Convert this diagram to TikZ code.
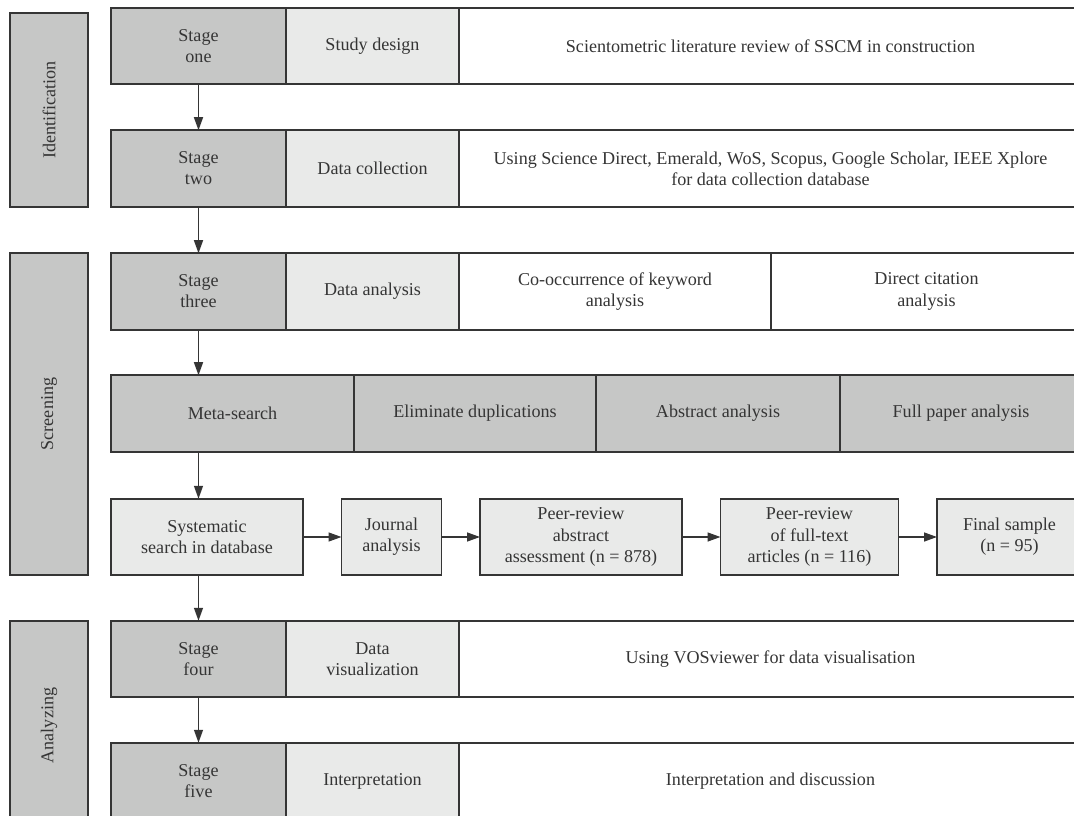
\documentclass[tikz,border=0pt]{standalone}
\usepackage{fontspec}
\setmainfont{Liberation Serif}
\usepackage{tikz}
\usetikzlibrary{positioning, arrows.meta}

\definecolor{darkfill}{HTML}{C6C7C6}
\definecolor{lightfill}{HTML}{E9EAE9}
\definecolor{edge}{HTML}{353535}

\tikzset{
	box/.style={draw=edge, line width=1.1pt, text=edge, align=center, inner sep=2pt, outer sep=0pt, minimum height=1.53cm, font=\fontsize{10.3}{12}\selectfont},
	phasebox/.style={box, fill=darkfill, rotate=90, minimum height=1.56cm},
	stagebox/.style={box, fill=darkfill, minimum width=3.5cm},
	taskbox/.style={box, fill=lightfill, minimum width=3.46cm},
	infobox/.style={box, fill=white, minimum width=12.46cm},
	arr/.style={draw=edge, line width=0.8pt, -{Triangle[length=0.26cm, width=0.18cm]}}
}

\begin{document}
\begin{tikzpicture}
			\useasboundingbox (0,0) rectangle (21.48,-16.32);
			
			% Phases
			\node[phasebox, minimum width=3.88cm] (ident) at (0.98, -2.2) {Identification};
			\node[phasebox, minimum width=6.44cm] (screen) at (0.98, -8.28) {Screening};
			\node[phasebox, minimum width=4.18cm] (analyz) at (0.98, -14.51) {Analyzing};
			
			% Stage one
			\node[stagebox] (s1) at (3.97, -0.92) {Stage\\one};
			\node[taskbox, right=0pt of s1] (t1) {Study design};
			\node[infobox, right=0pt of t1] (i1) {Scientometric literature review of SSCM in construction};
			
			% Stage two
			\node[stagebox] (s2) at (3.97, -3.37) {Stage\\two};
			\node[taskbox, right=0pt of s2] (t2) {Data collection};
			\node[infobox, right=0pt of t2] (i2) {Using Science Direct, Emerald, WoS, Scopus, Google Scholar, IEEE Xplore\\for data collection database};
			
			% Stage three
			\node[stagebox] (s3) at (3.97, -5.83) {Stage\\three};
			\node[taskbox, right=0pt of s3] (t3) {Data analysis};
			\node[infobox, minimum width=6.24cm, right=0pt of t3] (i3a) {Co-occurrence of keyword\\analysis};
			\node[infobox, minimum width=6.22cm, right=0pt of i3a] (i3b) {Direct citation\\analysis};
			
			% Screening steps
			\node[stagebox, minimum width=4.86cm] (m1) at (4.65, -8.27) {Meta-search};
			\node[stagebox, minimum width=4.84cm, right=0pt of m1] (m2) {Eliminate duplications};
			\node[stagebox, minimum width=4.88cm, right=0pt of m2] (m3) {Abstract analysis};
			\node[stagebox, minimum width=4.84cm, right=0pt of m3] (m4) {Full paper analysis};
			
			% Search flow
			\node[taskbox, minimum width=3.84cm] (f1) at (4.14, -10.74) {Systematic\\search in database};
			\node[taskbox, minimum width=2cm, right=0.77cm of f1] (f2) {Journal\\analysis};
			\node[taskbox, minimum width=4.04cm, right=0.77cm of f2] (f3) {Peer-review\\abstract\\assessment (n = 878)};
			\node[taskbox, minimum width=3.56cm, right=0.77cm of f3] (f4) {Peer-review\\of full-text\\articles (n = 116)};
			\node[taskbox, minimum width=2.9cm, right=0.77cm of f4] (f5) {Final sample\\(n = 95)};
			
			% Stage four
			\node[stagebox] (s4) at (3.97, -13.18) {Stage\\four};
			\node[taskbox, right=0pt of s4] (t4) {Data\\visualization};
			\node[infobox, right=0pt of t4] (i4) {Using VOSviewer for data visualisation};
			
			% Stage five
			\node[stagebox] (s5) at (3.97, -15.62) {Stage\\five};
			\node[taskbox, right=0pt of s5] (t5) {Interpretation};
			\node[infobox, right=0pt of t5] (i5) {Interpretation and discussion};
			
			% Connections
			\draw[arr] (s1) -- (s2);
			\draw[arr] (s2) -- (s3);
			\draw[arr] (s3) -- (s3 |- m1.north);
			\draw[arr] (s3 |- m1.south) -- (s3 |- f1.north);
			\draw[arr] (s4 |- f1.south) -- (s4);
			\draw[arr] (s4) -- (s5);
			\draw[arr] (f1) -- (f2);
			\draw[arr] (f2) -- (f3);
			\draw[arr] (f3) -- (f4);
			\draw[arr] (f4) -- (f5);
		\end{tikzpicture}
\end{document}
